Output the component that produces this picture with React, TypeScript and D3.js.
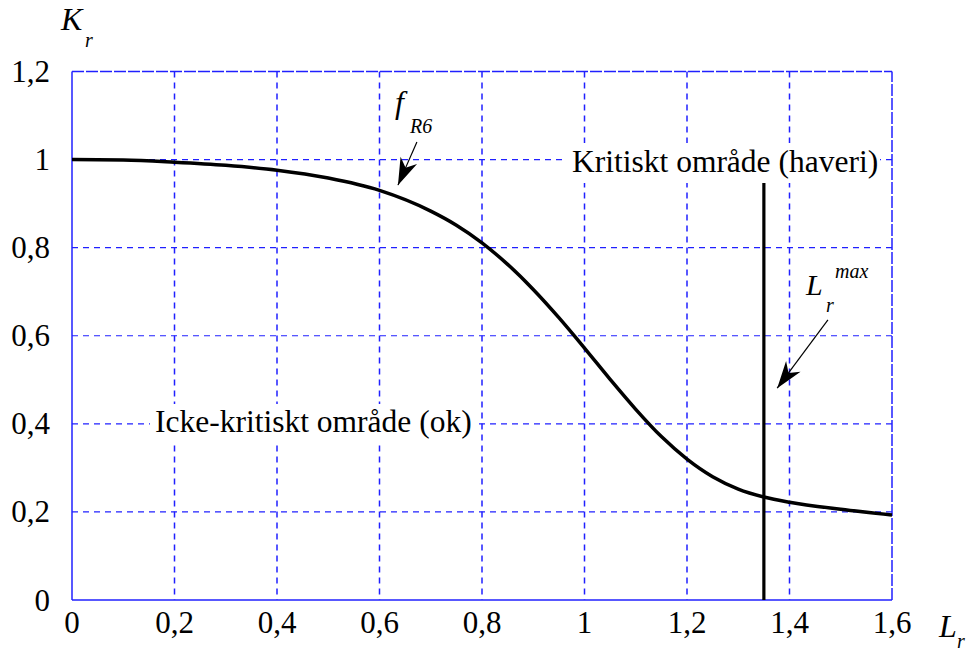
import * as d3 from "d3"

// Lr (x) and Kr (y)
const lrValues = [0, 0.1, 0.2, 0.3, 0.4, 0.5, 0.6, 0.7, 0.75, 0.8, 0.85, 0.9, 0.95, 1.0, 1.05, 1.1, 1.15, 1.2, 1.25, 1.3, 1.35, 1.4, 1.5, 1.6]
const krValues = [1.0, 0.999, 0.994, 0.987, 0.976, 0.958, 0.93, 0.883, 0.851, 0.811, 0.762, 0.705, 0.641, 0.572, 0.501, 0.433, 0.371, 0.32, 0.28, 0.252, 0.234, 0.222, 0.206, 0.193]

const xTicks = [0, 0.2, 0.4, 0.6, 0.8, 1.0, 1.2, 1.4, 1.6]
const xTickLabels = ["0", "0,2", "0,4", "0,6", "0,8", "1", "1,2", "1,4", "1,6"]
const yTicks = [0, 0.2, 0.4, 0.6, 0.8, 1.0, 1.2]
const yTickLabels = ["0", "0,2", "0,4", "0,6", "0,8", "1", "1,2"]

const lrMax = 1.35

const W = 966
const H = 652
const BLUE = "#2020ff"
const FONT = "'Liberation Serif', 'DejaVu Serif', 'Times New Roman', serif"

function arrowHead(tx: number, ty: number, fx: number, fy: number) {
  // filled, notched arrowhead pointing at (tx, ty), coming from (fx, fy)
  const len = Math.hypot(tx - fx, ty - fy)
  const ux = (tx - fx) / len
  const uy = (ty - fy) / len
  const px = -uy
  const py = ux
  const L = 27, w = 9, notch = 19
  const p = d3.path()
  p.moveTo(tx, ty)
  p.lineTo(tx - ux * L + px * w, ty - uy * L + py * w)
  p.lineTo(tx - ux * notch, ty - uy * notch)
  p.lineTo(tx - ux * L - px * w, ty - uy * L - py * w)
  p.closePath()
  return p.toString()
}

export default function App() {
  const x = d3.scaleLinear().domain([0, 1.6]).range([72, 892])
  const y = d3.scaleLinear().domain([0, 1.2]).range([600, 71.5])

  const pts = lrValues.map((l, i) => [l, krValues[i]] as [number, number])
  const line = d3.line<[number, number]>()
    .x((d) => x(d[0]))
    .y((d) => y(d[1]))
    .curve(d3.curveMonotoneX)

  // annotation arrows in data coordinates
  const fArrow = { from: [0.673, 1.04], to: [0.636, 0.942] }
  const mArrow = { from: [1.475, 0.636], to: [1.376, 0.481] }

  return (
    <svg width={W} height={H} style={{ position: "absolute", left: 0, top: 0, background: "#fff", fontFamily: FONT }}>
      {/* grid */}
      <g stroke={BLUE} strokeDasharray="6,5" fill="none">
        {xTicks.slice(1, -1).map((t) => (
          <line key={"gx" + t} x1={x(t)} x2={x(t)} y1={y(1.2)} y2={y(0)} strokeWidth={1.5} />
        ))}
        {yTicks.slice(1, -1).map((t) => (
          <line key={"gy" + t} x1={x(0)} x2={x(1.6)} y1={y(t)} y2={y(t)} strokeWidth={1.2} />
        ))}
      </g>
      {/* frame */}
      <g stroke={BLUE} strokeWidth={1.5} fill="none">
        <line x1={x(0)} x2={x(0)} y1={y(0)} y2={y(1.2)} />
        <line x1={x(0)} x2={x(1.6)} y1={y(0)} y2={y(0)} />
        <line x1={x(0)} x2={x(1.6)} y1={y(1.2)} y2={y(1.2)} strokeDasharray="12,2" />
        <line x1={x(1.6)} x2={x(1.6)} y1={y(0)} y2={y(1.2)} strokeDasharray="12,2" />
      </g>

      {/* tick labels */}
      <g fontSize={31} fill="#000">
        {xTicks.map((t, i) => (
          <text key={"xl" + t} x={x(t)} y={633} textAnchor="middle">{xTickLabels[i]}</text>
        ))}
        {yTicks.map((t, i) => (
          <text key={"yl" + t} x={50} y={y(t) + 10.5} textAnchor="end">{yTickLabels[i]}</text>
        ))}
      </g>

      {/* axis titles */}
      <g fontStyle="italic" fill="#000">
        <text x={61} y={30} fontSize={32}>K</text>
        <text x={85} y={47} fontSize={20}>r</text>
        <text x={939} y={637} fontSize={32}>L</text>
        <text x={957} y={648} fontSize={20}>r</text>
      </g>

      {/* f_R6 curve */}
      <path d={line(pts) ?? ""} fill="none" stroke="#000" strokeWidth={3.5} strokeLinejoin="round" />

      {/* Lr max line */}
      <line x1={x(lrMax)} x2={x(lrMax)} y1={y(0)} y2={y(1.0)} stroke="#000" strokeWidth={3.2} />

      {/* region labels with white boxes */}
      <rect x={566} y={143} width={314} height={40} fill="#fff" />
      <text x={572} y={172} fontSize={31.5} fill="#000">Kritiskt område (haveri)</text>
      <rect x={150} y={404} width={328} height={40} fill="#fff" />
      <text x={155} y={432} fontSize={31.5} fill="#000">Icke-kritiskt område (ok)</text>

      {/* f_R6 and Lr max labels */}
      <g fontStyle="italic" fill="#000">
        <text x={395} y={113} fontSize={32}>f</text>
        <text x={410} y={133} fontSize={20}>R6</text>
        <text x={806} y={295} fontSize={30}>L</text>
        <text x={835} y={278} fontSize={20}>max</text>
        <text x={826} y={312} fontSize={20}>r</text>
      </g>
      {[fArrow, mArrow].map((a, i) => {
        const fx = x(a.from[0]), fy = y(a.from[1]), tx = x(a.to[0]), ty = y(a.to[1])
        return (
          <g key={"ar" + i}>
            <line x1={fx} y1={fy} x2={tx} y2={ty} stroke="#000" strokeWidth={1.2} />
            <path d={arrowHead(tx, ty, fx, fy)} fill="#000" />
          </g>
        )
      })}
    </svg>
  )
}
